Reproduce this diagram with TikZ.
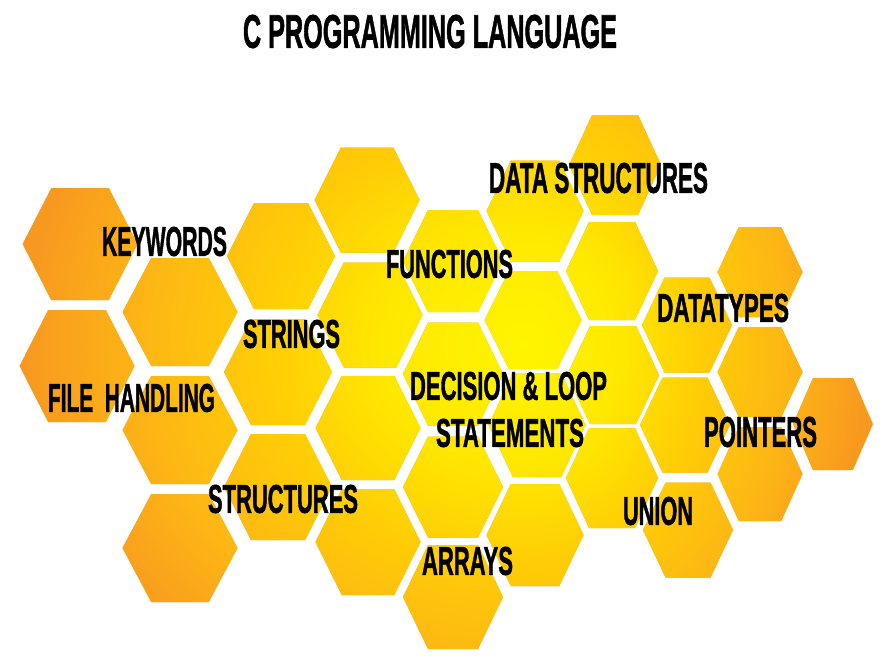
\documentclass[tikz,border=0pt]{standalone}
\usepackage{fontspec}
\setmainfont{Liberation Sans}
\newfontfamily\labfont{Liberation Sans}[BoldFeatures={FakeBold=1.6}]
\usepackage{graphicx}
\definecolor{hc0}{HTML}{FFF500}
\definecolor{hc1}{HTML}{FFE800}
\definecolor{hc2}{HTML}{FFCD06}
\definecolor{hc3}{HTML}{FDB714}
\definecolor{hc4}{HTML}{F8991F}
\pgfdeclareradialshading{honey}{\pgfpoint{0bp}{0bp}}{color(0bp)=(hc0); color(7bp)=(hc1); color(13bp)=(hc2); color(19bp)=(hc3); color(25bp)=(hc4); color(50bp)=(hc4)}
\def\hexlist{80/244/115/112, 77/366/115/112,
 180/312/115/108, 180/430/115/108, 180/548/115/108,
 281/256/108/106, 278/372/108/106, 278/487/108/106,
 367/200/105/105, 370/315/105/105, 368/428/105/104, 368/542/105/106,
 453/261/100/102, 453/374/100/103, 453/487/100/101, 453/597/100/104,
 535/211/97/101, 533/320/97/98, 537/425/97/104, 535/535/97/102,
 615/165/92/100, 612/271/92/98, 613/375/92/98, 612/478/92/100,
 687/325/90/95, 685/425/90/95, 688/530/90/95,
 760/272/85/90, 760/372/85/90, 760/474/85/94,
 833/424/80/92}
\tikzset{lbl/.style={inner sep=0pt, outer sep=0pt, anchor=center, font=\labfont\bfseries}}
\newcommand\lab[3]{\resizebox{#1pt}{#2pt}{#3}}
\begin{document}
\begin{tikzpicture}[x=1pt,y=-1pt]
\useasboundingbox (0,0) rectangle (880,656);
\fill[white] (0,0) rectangle (880,656);
% left half of the honeycomb
\begin{scope}
\clip (0,0) rectangle (525,656);
\clip foreach \cx/\cy/\w/\h in \hexlist {
 ({\cx-\w/2},{\cy}) -- ({\cx-\w/4},{\cy-\h/2}) -- ({\cx+\w/4},{\cy-\h/2}) --
 ({\cx+\w/2},{\cy}) -- ({\cx+\w/4},{\cy+\h/2}) -- ({\cx-\w/4},{\cy+\h/2}) -- cycle };
\fill[hc4] (0,0) rectangle (525,656);
\shade[shading=honey] (525,345) ellipse [x radius=500pt, y radius=420pt];
\end{scope}
% right half of the honeycomb
\begin{scope}
\clip (525,0) rectangle (880,656);
\clip foreach \cx/\cy/\w/\h in \hexlist {
 ({\cx-\w/2},{\cy}) -- ({\cx-\w/4},{\cy-\h/2}) -- ({\cx+\w/4},{\cy-\h/2}) --
 ({\cx+\w/2},{\cy}) -- ({\cx+\w/4},{\cy+\h/2}) -- ({\cx-\w/4},{\cy+\h/2}) -- cycle };
\fill[hc4] (525,0) rectangle (880,656);
\shade[shading=honey] (525,345) ellipse [x radius=340pt, y radius=420pt];
\end{scope}
% labels
\node[lbl] (title) at (430,31.5) {\lab{374}{33}{C PROGRAMMING LANGUAGE}};
\node[lbl] (keywords) at (164.5,241.5) {\lab{125}{29}{KEYWORDS}};
\node[lbl] (functions) at (449.5,264) {\lab{127}{28}{FUNCTIONS}};
\node[lbl] (datastruct) at (598.5,178) {\lab{219}{30}{DATA STRUCTURES}};
\node[lbl] (strings) at (291.5,334) {\lab{97}{28}{STRINGS}};
\node[lbl] (datatypes) at (723,308) {\lab{132}{28}{DATATYPES}};
\node[lbl] (filehandling) at (131.5,398) {\lab{167}{28}{FILE\ \ HANDLING}};
\node[lbl] (decision) at (508.5,386) {\lab{197}{28}{DECISION \& LOOP}};
\node[lbl] (statements) at (510,433) {\lab{148}{28}{STATEMENTS}};
\node[lbl] (pointers) at (760.5,432) {\lab{113}{30}{POINTERS}};
\node[lbl] (structures) at (283,499) {\lab{150}{28}{STRUCTURES}};
\node[lbl] (union) at (658,511) {\lab{70}{28}{UNION}};
\node[lbl] (arrays) at (467.5,561) {\lab{91}{28}{ARRAYS}};
\end{tikzpicture}
\end{document}
